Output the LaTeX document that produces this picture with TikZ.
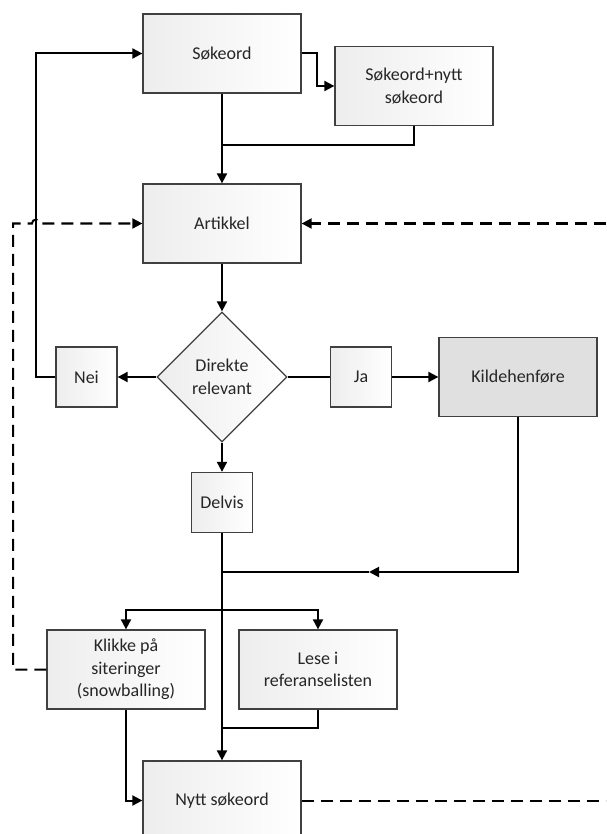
\documentclass[tikz,border=0pt]{standalone}
\usepackage{fontspec}
\setmainfont{Carlito}
\usetikzlibrary{arrows.meta}
\usetikzlibrary{shapes.geometric}

\begin{document}
\begin{tikzpicture}[x=1pt, y=-1pt,
  >={Triangle[length=10pt, width=10pt]},
  box/.style={draw=black!75, line width=1.3pt, left color=black!7, right color=white, align=center, text=black!85, font=\fontsize{18}{22.5}\selectfont, inner sep=0},
  bigbox/.style={box, minimum width=158pt, minimum height=79pt},
  smallbox/.style={box, minimum width=61pt, minimum height=60pt},
  decision/.style={box, diamond, minimum width=130pt, minimum height=130pt},
  line/.style={black, line width=2pt},
  dashline/.style={line, dash pattern=on 12pt off 7pt}]
\clip (0,0) rectangle (606,834);
\useasboundingbox (0,0) rectangle (606,834);
% boxes
\node[bigbox] (sok) at (222,53.5) {Søkeord};
\node[bigbox] (sokny) at (414,86) {Søkeord+nytt\\søkeord};
\node[bigbox] (art) at (222,223.5) {Artikkel};
\node[decision] (dir) at (222,377) {Direkte\\relevant};
\node[smallbox] (nei) at (86.5,377) {Nei};
\node[smallbox] (ja) at (361,377) {Ja};
\node[bigbox, left color=black!12, right color=black!12] (kilde) at (518,377) {Kildehenføre};
\node[smallbox] (delvis) at (222,502.5) {Delvis};
\node[bigbox] (klikk) at (126,669.5) {Klikke på\\siteringer\\(snowballing)};
\node[bigbox] (lese) at (318,669.5) {Lese i\\referanselisten};
\node[bigbox] (nytt) at (222,800.5) {Nytt søkeord};
% joints
\coordinate (j1) at (222,145);
\coordinate (j2) at (222,572);
\coordinate (j3) at (222,610);
\coordinate (j4) at (222,728);
\coordinate (tipK) at (369,572);
\coordinate (loopL) at (36,377);
\coordinate (dashL) at (13,669.5);
\coordinate (dashT) at (13,223.5);
\coordinate (hop) at (32,223.5);
\coordinate (edgeA) at (606,223.5);
\coordinate (edgeN) at (606,800.5);
% solid connectors
\draw[line, ->] (sok.east) -- ++(15,0) |- (sokny.west);
\draw[line] (sokny.south) |- (j1);
\draw[line, ->] (sok.south) -- (art.north);
\draw[line, ->] (art.south) -- (dir.north);
\draw[line, ->] (dir.west) -- (nei.east);
\draw[line, ->] (nei.west) -- (loopL) |- (sok.west);
\draw[line] (dir.east) -- (ja.west);
\draw[line, ->] (ja.east) -- (kilde.west);
\draw[line, ->] (dir.south) -- (delvis.north);
\draw[line, ->] (kilde.south) |- (tipK);
\draw[line] (tipK) -- (j2);
\draw[line, ->] (delvis.south) -- (nytt.north);
\draw[line, ->] (j3) -| (klikk.north);
\draw[line, ->] (j3) -| (lese.north);
\draw[line] (lese.south) |- (j4);
\draw[line, ->] (klikk.south) |- (nytt.west);
% dashed connectors
\draw[dashline, ->] (klikk.west) -- (dashL) -- (dashT) -- (hop) arc[start angle=180, end angle=360, radius=4] -- (art.west);
\draw[dashline, ->] (edgeA) -- (art.east);
\draw[dashline] (nytt.east) -- (edgeN);
\end{tikzpicture}
\end{document}
